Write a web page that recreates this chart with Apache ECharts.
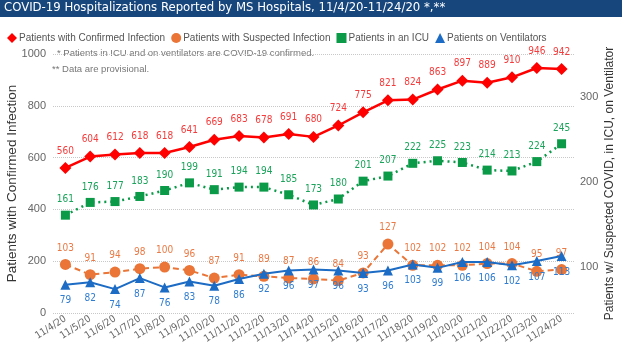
<!DOCTYPE html>
<html>
<head>
<meta charset="utf-8">
<script src="https://cdn.jsdelivr.net/npm/echarts@6/dist/echarts.min.js"></script>
<style>
  html, body { margin: 0; padding: 0; background: #fff; }
  #chart { width: 622px; height: 352px; }
</style>
</head>
<body>
<div id="chart"></div>
<script>
// 数据
const dates = ['11/4/20', '11/5/20', '11/6/20', '11/7/20', '11/8/20', '11/9/20', '11/10/20',
  '11/11/20', '11/12/20', '11/13/20', '11/14/20', '11/15/20', '11/16/20', '11/17/20',
  '11/18/20', '11/19/20', '11/20/20', '11/21/20', '11/22/20', '11/23/20', '11/24/20']
const confirmed = [560, 604, 612, 618, 618, 641, 669, 683, 678, 691, 680, 724, 775, 821, 824, 863, 897, 889, 910, 946, 942]
const suspected = [103, 91, 94, 98, 100, 96, 87, 91, 89, 87, 86, 84, 93, 127, 102, 102, 102, 104, 104, 95, 97]
const icu = [161, 176, 177, 183, 190, 199, 191, 194, 194, 185, 173, 180, 201, 207, 222, 225, 223, 214, 213, 224, 245]
const ventilators = [79, 82, 74, 87, 76, 83, 78, 86, 92, 96, 97, 96, 93, 96, 103, 99, 106, 106, 102, 107, 113]
const rightTicks = [100, 200, 300]

const narrow = '"Liberation Sans Narrow", "DejaVu Sans Condensed", sans-serif'
const chart = echarts.init(document.getElementById('chart'))

const labelStyle = (color, pos) => ({
  show: true, position: pos, distance: 6,
  color: color, fontSize: 10, fontFamily: narrow
})

chart.setOption({
  animation: false,
  graphic: [
    { type: 'rect', left: 0, top: 0, shape: { width: 622, height: 17 }, style: { fill: '#17467d' } },
    { type: 'text', left: 4, top: 1, style: { text: 'COVID-19 Hospitalizations Reported by MS Hospitals, 11/4/20-11/24/20 *,**', fill: '#fff', fontSize: 13, fontFamily: narrow } },
    { type: 'text', left: 57, top: 48, style: { text: '* Patients in ICU and on ventilators are COVID-19 confirmed.', fill: '#777', fontSize: 9.5, fontFamily: 'Liberation Sans, sans-serif' } },
    { type: 'text', left: 52, top: 64, style: { text: '** Data are provisional.', fill: '#777', fontSize: 9.5, fontFamily: 'Liberation Sans, sans-serif' } }
  ],
  legend: {
    left: 2, top: 28, itemWidth: 10, itemHeight: 10, itemGap: 6,
    textStyle: { color: '#555', fontSize: 10, fontFamily: 'Liberation Sans, sans-serif', padding: [0, 0, 0, -3] },
    data: [
      { name: 'Patients with Confirmed Infection', icon: 'diamond' },
      { name: 'Patients with Suspected Infection', icon: 'circle' },
      { name: 'Patients in an ICU', icon: 'rect' },
      { name: 'Patients on Ventilators', icon: 'triangle' }
    ]
  },
  grid: { left: 53, right: 48, top: 54, bottom: 39, outerBoundsMode: 'none' },
  xAxis: {
    type: 'category', data: dates,
    axisLine: { show: false }, axisTick: { show: false },
    axisLabel: { interval: 0, rotate: 33, color: '#666', fontSize: 10, margin: 5, fontFamily: narrow }
  },
  yAxis: [
    {
      type: 'value', min: 0, max: 1000, interval: 200,
      name: 'Patients with Confirmed Infection', nameLocation: 'middle', nameGap: 34, nameMoveOverlap: false,
      nameTextStyle: { color: '#333', fontSize: 13.5, fontFamily: 'Liberation Sans, sans-serif' },
      axisLabel: { color: '#666', fontSize: 11, margin: 7, formatter: v => String(v) },
      splitLine: { lineStyle: { type: 'dotted', color: '#c8c8c8' } }
    },
    {
      type: 'value', min: 45.9, max: 350.6,
      name: 'Patients w/ Suspected COVID, in ICU, on Ventilator', nameLocation: 'middle', nameGap: 30, nameRotate: 90, nameMoveOverlap: false,
      nameTextStyle: { color: '#333', fontSize: 12, fontFamily: 'Liberation Sans, sans-serif' },
      axisLabel: { color: '#666', fontSize: 11, margin: 6, customValues: rightTicks },
      axisTick: { show: false, customValues: rightTicks },
      splitLine: { show: false }
    }
  ],
  series: [
    {
      name: 'Patients with Confirmed Infection', type: 'line', data: confirmed, yAxisIndex: 0,
      symbol: 'diamond', symbolSize: 12, z: 4,
      itemStyle: { color: '#ff0000' }, lineStyle: { width: 2.5, color: '#ff0000' },
      label: labelStyle('#f53b3b', 'top')
    },
    {
      name: 'Patients with Suspected Infection', type: 'line', data: suspected, yAxisIndex: 1,
      symbol: 'circle', symbolSize: 11, z: 2,
      itemStyle: { color: '#ea7536' }, lineStyle: { width: 2, type: [6, 4], color: '#ea7536' },
      label: labelStyle('#ea7a45', 'top')
    },
    {
      name: 'Patients in an ICU', type: 'line', data: icu, yAxisIndex: 1,
      symbol: 'rect', symbolSize: 9, z: 3,
      itemStyle: { color: '#0a9a48' }, lineStyle: { width: 2.5, type: [2, 4], color: '#0a9a48' },
      label: labelStyle('#1aa35a', 'top')
    },
    {
      name: 'Patients on Ventilators', type: 'line', data: ventilators, yAxisIndex: 1,
      symbol: 'triangle', symbolSize: 10, z: 3,
      itemStyle: { color: '#1c6bc4' }, lineStyle: { width: 2, color: '#1c6bc4' },
      label: labelStyle('#2f7cd0', 'bottom')
    }
  ]
})
</script>
</body>
</html>
